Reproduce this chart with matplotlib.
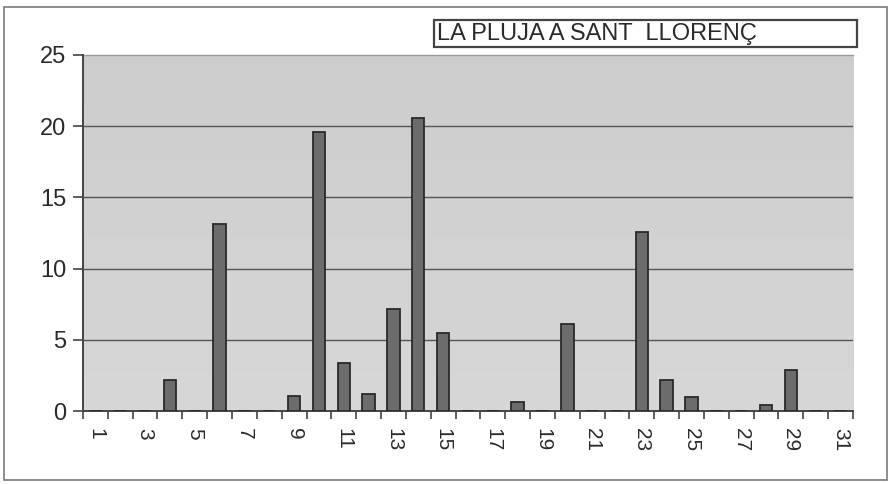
import numpy as np
import matplotlib.pyplot as plt
from matplotlib.patches import Rectangle

# Dades: pluja diària (l/m2) a Sant Llorenç
dies = list(range(1, 32))
pluja = [0, 0, 0, 2.2, 0, 13.1, 0, 0, 1.05, 19.6,
         3.4, 1.2, 7.15, 20.6, 5.5, 0, 0, 0.6, 0, 6.1,
         0, 0, 12.6, 2.2, 1.0, 0, 0, 0.4, 2.9, 0, 0]
etiquetes = [str(d) for d in dies if d % 2 == 1]
titol = "LA PLUJA A SANT  LLORENÇ"

plt.rcParams['font.family'] = ['Liberation Sans', 'DejaVu Sans']

fig = plt.figure(figsize=(8.94, 4.84), dpi=100)
fig.patch.set_facecolor('white')

# marc exterior
fig.patches.append(Rectangle((0.004, 0.008), 0.988, 0.978, transform=fig.transFigure,
                             fill=False, edgecolor='#7a7a7a', linewidth=1.2))

ax = fig.add_axes([0.0928, 0.1508, 0.8613, 0.7356])

# fons amb degradat suau
grad = np.linspace(0.84, 0.80, 100).reshape(-1, 1)
ax.imshow(grad, cmap='gray', vmin=0, vmax=1, aspect='auto',
          extent=[-0.5, 30.5, 0, 25], origin='lower', zorder=0)

x = np.arange(len(dies))
ax.bar(x, pluja, width=0.5, color='#6c6c6c', edgecolor='#2a2a2a', linewidth=1.3, zorder=3)

ax.set_xlim(-0.5, 30.5)
ax.set_ylim(0, 25)

for v in [5, 10, 15, 20]:
    ax.axhline(v, color='#555555', linewidth=1.0, zorder=1)

ax.set_yticks([0, 5, 10, 15, 20, 25])
ax.tick_params(axis='y', labelsize=17, length=7, width=1.2, color='#444444',
               labelcolor='#2a2a2a', pad=5)

# marques entre categories, etiquetes als dies senars
ax.set_xticks(np.arange(-0.5, 31, 1))
ax.set_xticklabels([])
ax.tick_params(axis='x', which='major', length=6, width=1.2, color='#444444')
ax.set_xticks([d - 1 for d in dies if d % 2 == 1], minor=True)
ax.set_xticklabels(etiquetes, minor=True, rotation=-90, fontsize=15, color='#2a2a2a')
ax.tick_params(axis='x', which='minor', length=0, pad=12)

for s in ['top', 'right']:
    ax.spines[s].set_visible(False)
ax.spines['left'].set_color('#444444')
ax.spines['left'].set_linewidth(1.4)
ax.spines['bottom'].set_color('#444444')
ax.spines['bottom'].set_linewidth(1.4)
ax.plot([-0.5, 30.5], [25, 25], color='#999999', linewidth=1.0, clip_on=False, zorder=2)

# caixa del títol
fig.patches.append(Rectangle((434 / 894, 1 - 47 / 484), 423 / 894, 27 / 484,
                             transform=fig.transFigure, fill=False,
                             edgecolor='#444444', linewidth=1.6))
fig.text(437 / 894, 1 - 34 / 484, titol, fontsize=17, color='#2a2a2a',
         ha='left', va='center')

fig.savefig('out.png', dpi=100)
